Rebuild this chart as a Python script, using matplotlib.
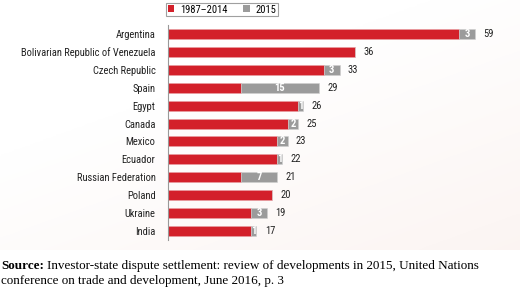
import numpy as np
import matplotlib
matplotlib.use("Agg")
import matplotlib.pyplot as plt
from matplotlib.patches import Patch
from matplotlib import font_manager

countries = ["Argentina", "Bolivarian Republic of Venezuela", "Czech Republic", "Spain",
             "Egypt", "Canada", "Mexico", "Ecuador", "Russian Federation", "Poland",
             "Ukraine", "India"]
totals = [59, 36, 33, 29, 26, 25, 23, 22, 21, 20, 19, 17]
cases_2015 = [3, 0, 3, 15, 1, 2, 2, 1, 7, 0, 3, 1]
cases_before = [t - n for t, n in zip(totals, cases_2015)]

red = "#d3202a"
grey = "#9b9b9b"

# pick a narrow sans face if one is around
names = {f.name for f in font_manager.fontManager.ttflist}
cond = {(f.name, f.stretch) for f in font_manager.fontManager.ttflist}
narrow_font = {"family": "Liberation Sans", "stretch": "normal", "scale": 0.84}
for cand in ["Liberation Sans Narrow", "Roboto Condensed", "Open Sans Condensed"]:
    if cand in names:
        narrow_font = {"family": cand, "stretch": "normal", "scale": 1.0}
        break
else:
    for n, s in cond:
        if n == "DejaVu Sans" and "condensed" in str(s):
            narrow_font = {"family": "DejaVu Sans", "stretch": "condensed", "scale": 0.9}
            break
fam = narrow_font["family"]
stretch = narrow_font["stretch"]
fs = 7.6 * narrow_font["scale"]

fig = plt.figure(figsize=(5.2, 2.96), dpi=100)

# faint pinkish background behind the chart area
bg = fig.add_axes([0, 46 / 296, 1, 250 / 296])
grad = np.linspace(0, 1, 200)
gx, gy = np.meshgrid(grad, grad)
g = np.clip((gx * 0.6 + gy * 0.8) - 0.5, 0, 1)
white = np.array([1.0, 1.0, 1.0])
pink = np.array([0.985, 0.955, 0.945])
img = white + (pink - white) * g[..., None]
bg.imshow(img, aspect="auto", extent=[0, 1, 0, 1], origin="upper")
bg.axis("off")

ax = fig.add_axes([168 / 520, 1 - 240 / 296, 332 / 520, 215 / 296])
ax.patch.set_alpha(0)
y = np.arange(len(countries))
ax.barh(y, cases_before, height=0.56, color=red, edgecolor="#e8a0a4", linewidth=0.4)
ax.barh(y, cases_2015, left=cases_before, height=0.56, color=grey,
        edgecolor="#d0d0d0", linewidth=0.4)

for i in range(len(countries)):
    if cases_2015[i] > 0:
        ax.text(cases_before[i] + cases_2015[i] / 2, i, str(cases_2015[i]),
                ha="center", va="center", color="white", fontsize=fs,
                fontweight="bold", family=fam, fontstretch=stretch)
    ax.text(totals[i] + 1.6, i, str(totals[i]), ha="left", va="center",
            color="#222222", fontsize=fs, family=fam, fontstretch=stretch)

ax.set_xlim(0, 332 / 5.2)
ax.set_ylim(len(countries) - 0.5, -0.5)
ax.set_yticks(y)
ax.set_yticklabels(countries, fontsize=fs, family=fam, fontstretch=stretch, color="#222222")
ax.tick_params(axis="y", length=0, pad=9)
ax.set_xticks([])
for s in ["top", "right", "bottom"]:
    ax.spines[s].set_visible(False)
ax.spines["left"].set_color("#999999")
ax.spines["left"].set_linewidth(0.8)

handles = [Patch(facecolor=red, label="1987–2014"), Patch(facecolor=grey, label="2015")]
leg = fig.legend(handles=handles, loc="upper left", bbox_to_anchor=(166 / 520, 1 - 3 / 296),
                 ncol=2, frameon=True, fancybox=False, borderpad=0.15, borderaxespad=0,
                 handlelength=0.65, handleheight=0.65, handletextpad=0.5, columnspacing=1.5,
                 prop={"family": fam, "stretch": stretch, "size": fs})
leg.get_frame().set_edgecolor("#888888")
leg.get_frame().set_linewidth(0.8)

# source note
serif = "Liberation Serif"
t1 = fig.text(1 / 520, 1 - 266 / 296, "Source:", fontsize=9.45, family=serif,
              fontweight="bold", va="center", ha="left")
fig.canvas.draw()
bb = t1.get_window_extent()
fig.text(bb.x1 / 520 + 3 / 520, 1 - 266 / 296,
         "Investor-state dispute settlement: review of developments in 2015, United Nations",
         fontsize=9.45, family=serif, va="center", ha="left")
fig.text(1 / 520, 1 - 281 / 296,
         "conference on trade and development, June 2016, p. 3",
         fontsize=9.45, family=serif, va="center", ha="left")

fig.savefig("out.png", dpi=100)
